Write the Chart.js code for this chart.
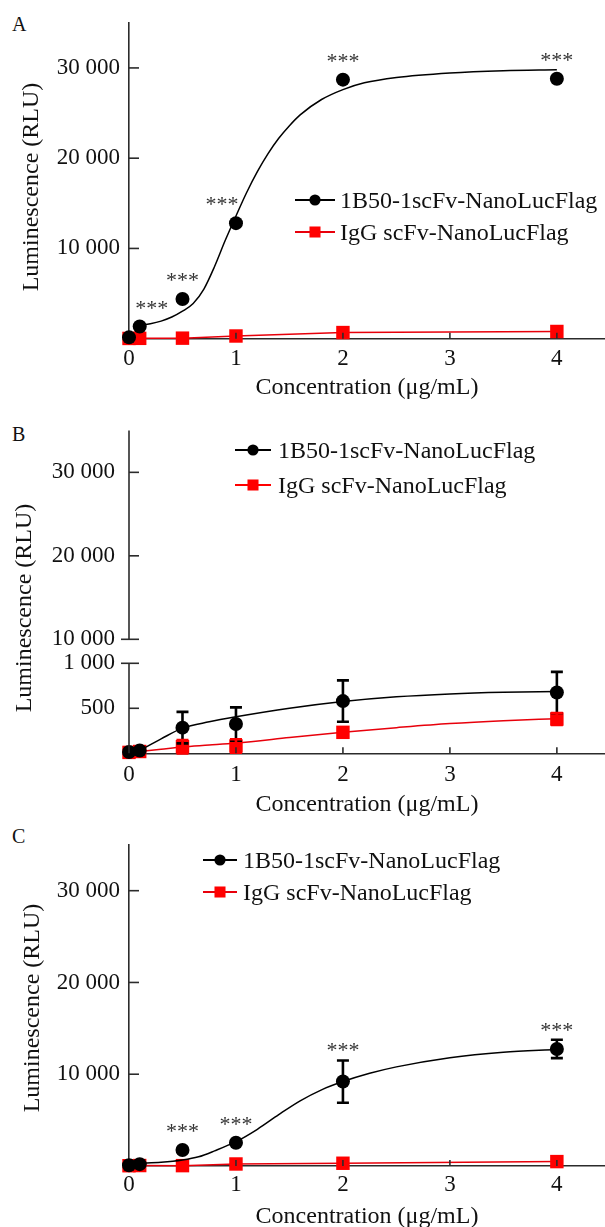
<!DOCTYPE html>
<html>
<head>
<meta charset="utf-8">
<script src="https://cdn.jsdelivr.net/npm/chart.js@4.4.1/dist/chart.umd.min.js"></script>
<style>
  html, body { margin: 0; padding: 0; background: #fff; }
  body { width: 605px; height: 1227px; position: relative; overflow: hidden; font-family: 'Liberation Serif', 'Times New Roman', serif; }
  .panel { position: absolute; left: 0; width: 605px; }
  .tag { position: absolute; left: 12px; font-size: 20px; line-height: 20px; color: #111; }
</style>
</head>
<body>
<div class="tag" style="top:14px">A</div>
<div class="tag" style="top:424px">B</div>
<div class="tag" style="top:826px">C</div>
<div class="panel" style="top:0;height:400px"><canvas id="chartA"></canvas></div>
<div class="panel" style="top:400px;height:420px"><canvas id="chartB"></canvas></div>
<div class="panel" style="top:820px;height:410px"><canvas id="chartC"></canvas></div>
<script>
// shared
const concentrations = [0, 0.1, 0.5, 1, 2, 4];
const xTicks = [0, 1, 2, 3, 4];
const seriesNames = ['1B50-1scFv-NanoLucFlag', 'IgG scFv-NanoLucFlag'];
const yTicksMain = [10000, 20000, 30000];

// panel A
const aBlack = [150, 1350, 4400, 12800, 28700, 28800];
const aRed = [30, 40, 60, 300, 680, 800];
const aStars = [0, 1, 1, 1, 1, 1];
const aFitX = [0.1, 0.2, 0.3, 0.4, 0.5, 0.6, 0.7, 0.8, 0.9, 1.0, 1.1, 1.2, 1.3, 1.4, 1.5, 1.6, 1.8, 2.0, 2.2, 2.5, 3.0, 3.5, 4.0];
const aFitBlack = [1450, 1650, 1950, 2400, 3050, 3900, 5500, 8000, 10900, 13600, 16200, 18500, 20500, 22200, 23600, 24800, 26500, 27600, 28350, 28950, 29450, 29700, 29800];

// panel B (broken axis)
const bBlack = [15, 30, 285, 325, 580, 675];
const bBlackErr = [0, 0, 175, 185, 230, 230];
const bRed = [10, 20, 73, 81, 233, 381];
const bRedErr = [0, 0, 75, 75, 30, 65];
const bFitX = [0.1, 0.3, 0.5, 0.75, 1, 1.5, 2, 2.5, 3, 3.5, 4];
const bFitBlack = [30, 160, 280, 350, 405, 500, 575, 628, 660, 678, 686];
const bFitRed = [20, 45, 70, 92, 115, 175, 235, 285, 330, 362, 385];
const bTicksHigh = [10000, 20000, 30000];
const bTicksLow = [500, 1000];

// panel C
const cBlack = [80, 200, 1740, 2540, 9200, 12750];
const cBlackErr = [0, 0, 0, 0, 2300, 1000];
const cRed = [30, 50, 40, 220, 300, 480];
const cStars = [0, 0, 1, 1, 1, 1];
const cFitX = [0.1, 0.3, 0.5, 0.65, 0.8, 1.0, 1.2, 1.4, 1.6, 1.8, 2.0, 2.25, 2.5, 3.0, 3.5, 4.0];
const cFitBlack = [290, 400, 650, 1000, 1650, 2650, 4000, 5600, 7100, 8300, 9200, 10100, 10800, 11800, 12400, 12700];

const serif = "'Liberation Serif', 'Times New Roman', serif";
const axisColor = '#2b2b2b';
Chart.defaults.font.family = serif;
Chart.defaults.color = '#111';

const zip = (xs, ys) => xs.map((x, i) => ({ x: x, y: ys[i] }));
const spaced = v => String(v).replace(/\B(?=(\d{3})+(?!\d))/g, ' ');

// error bars, stars, inward ticks, legend, y title, broken axis segments
const decor = {
    id: 'decor',
    afterDatasetsDraw(chart, args, opts) {
        const ctx = chart.ctx;
        const xs = chart.scales.x;
        ctx.save();
        chart.data.datasets.forEach((ds, i) => {
            if (!ds.errors) return;
            const ys = chart.scales[chart.getDatasetMeta(i).yAxisID];
            ctx.strokeStyle = ds.borderColor;
            ctx.lineWidth = 2.6;
            ds.data.forEach((p, j) => {
                const e = ds.errors[j];
                if (!e) return;
                const px = xs.getPixelForValue(p.x);
                const top = ys.getPixelForValue(p.y + e);
                const bot = ys.getPixelForValue(p.y - e);
                ctx.beginPath();
                ctx.moveTo(px, top); ctx.lineTo(px, bot);
                ctx.moveTo(px - 6, top); ctx.lineTo(px + 6, top);
                ctx.moveTo(px - 6, bot); ctx.lineTo(px + 6, bot);
                ctx.stroke();
            });
        });
        // significance stars
        ctx.fillStyle = '#333';
        ctx.font = '22px ' + serif;
        ctx.textAlign = 'center';
        ctx.textBaseline = 'alphabetic';
        chart.data.datasets.forEach((ds, i) => {
            if (!ds.stars) return;
            const ys = chart.scales[chart.getDatasetMeta(i).yAxisID];
            ds.data.forEach((p, j) => {
                if (!ds.stars[j]) return;
                const e = ds.errors ? ds.errors[j] : 0;
                const px = xs.getPixelForValue(p.x) + ((opts.starShift || {})[j] || 0);
                const cy = e ? ys.getPixelForValue(p.y + e) - 11 : ys.getPixelForValue(p.y) - 20;
                [-11, 0, 11].forEach(dx => ctx.fillText('*', px + dx, cy + 8));
            });
        });
        ctx.restore();
    },
    afterDraw(chart, args, opts) {
        const ctx = chart.ctx;
        const area = chart.chartArea;
        const xs = chart.scales.x;
        ctx.save();
        ctx.strokeStyle = axisColor;
        ctx.lineWidth = 1.6;
        // y axis drawn in pieces (panel B)
        (opts.segments || []).forEach(s => {
            const sc = chart.scales[s.axis];
            ctx.beginPath();
            ctx.moveTo(area.left, sc.getPixelForValue(s.from));
            ctx.lineTo(area.left, sc.getPixelForValue(s.to));
            ctx.stroke();
        });
        // inward y ticks
        (opts.yAxes || []).forEach(id => {
            const sc = chart.scales[id];
            sc.ticks.forEach(t => {
                const py = sc.getPixelForValue(t.value);
                const out = (opts.breakTicks || []).includes(t.value) ? 8 : 0;
                ctx.beginPath();
                ctx.moveTo(area.left - out, py);
                ctx.lineTo(area.left + 10, py);
                ctx.stroke();
            });
        });
        // inward x ticks
        xs.ticks.forEach(t => {
            if (t.value === 0) return;
            const px = xs.getPixelForValue(t.value);
            ctx.beginPath();
            ctx.moveTo(px, area.bottom);
            ctx.lineTo(px, area.bottom - 6);
            ctx.stroke();
        });
        // y axis title
        ctx.fillStyle = '#111';
        ctx.font = '24px ' + serif;
        ctx.textAlign = 'center';
        ctx.textBaseline = 'middle';
        ctx.save();
        ctx.translate(opts.yTitle.x, opts.yTitle.y);
        ctx.rotate(-Math.PI / 2);
        ctx.fillText('Luminescence (RLU)', 0, 0);
        ctx.restore();
        // legend
        const lg = opts.legend;
        let row = 0;
        chart.data.datasets.forEach(ds => {
            if (!ds.legendItem) return;
            const y = lg.y + row * lg.dy;
            ctx.strokeStyle = ds.borderColor;
            ctx.lineWidth = 1.8;
            ctx.beginPath();
            ctx.moveTo(lg.x, y);
            ctx.lineTo(lg.x + lg.len, y);
            ctx.stroke();
            ctx.fillStyle = ds.backgroundColor;
            Chart.helpers.drawPoint(ctx, {
                pointStyle: ds.pointStyle,
                radius: ds.pointStyle === 'rect' ? 7.8 : 5.6,
                rotation: 0,
                borderWidth: 0
            }, lg.x + lg.len / 2, y);
            ctx.fillStyle = '#111';
            ctx.font = '24px ' + serif;
            ctx.textAlign = 'left';
            ctx.textBaseline = 'alphabetic';
            ctx.fillText(ds.label, lg.x + lg.tx, y + 8);
            row++;
        });
        ctx.restore();
    }
};

function markerSet(label, xs, ys, color, style, extra) {
    return Object.assign({
        label: label,
        data: zip(xs, ys),
        pointStyle: style,
        pointRadius: style === 'rect' ? 9.5 : 7,
        pointHoverRadius: style === 'rect' ? 9.5 : 7,
        backgroundColor: color,
        borderColor: color,
        pointBorderWidth: 0,
        borderWidth: 1.5,
        showLine: false,
        clip: false,
        legendItem: true
    }, extra || {});
}

function fitSet(xs, ys, color, extra) {
    return Object.assign({
        data: zip(xs, ys),
        showLine: true,
        pointRadius: 0,
        borderColor: color,
        borderWidth: 1.5,
        cubicInterpolationMode: 'monotone',
        clip: false
    }, extra || {});
}

function xScale(h, axisY, tickPad, titlePad) {
    return {
        type: 'linear',
        min: 0,
        max: 4.45,
        afterBuildTicks: s => { s.ticks = xTicks.map(v => ({ value: v })); },
        afterFit: s => { s.height = h - axisY; },
        grid: { display: false, drawTicks: false, tickLength: 0 },
        border: { display: true, color: axisColor, width: 1.6 },
        ticks: { padding: tickPad, font: { size: 23, lineHeight: 1 }, color: '#111' },
        title: {
            display: true,
            text: 'Concentration (μg/mL)',
            font: { size: 24, lineHeight: 1 },
            color: '#111',
            padding: { top: 0, bottom: titlePad }
        }
    };
}

function yScale(tickVals, min, max, opts) {
    return Object.assign({
        type: 'linear',
        position: 'left',
        min: min,
        max: max,
        afterBuildTicks: s => { s.ticks = tickVals.map(v => ({ value: v })); },
        afterFit: s => { s.width = 129; },
        grid: { display: false, drawTicks: false, tickLength: 0 },
        border: { display: true, color: axisColor, width: 1.6 },
        ticks: { padding: 9, font: { size: 23 }, color: '#111', callback: v => spaced(v) }
    }, opts || {});
}

function baseOptions(top, scales, decorOpts) {
    return {
        responsive: true,
        maintainAspectRatio: false,
        animation: false,
        events: [],
        layout: { autoPadding: false, padding: { top: top, right: 0, bottom: 0, left: 0 } },
        plugins: { legend: { display: false }, tooltip: { enabled: false }, decor: decorOpts },
        scales: scales
    };
}

// Panel A
new Chart(document.getElementById('chartA'), {
    type: 'scatter',
    data: {
        datasets: [
            markerSet(seriesNames[0], concentrations, aBlack, '#000', 'circle', { stars: aStars }),
            fitSet(aFitX, aFitBlack, '#000'),
            markerSet(seriesNames[1], concentrations, aRed, '#ff0000', 'rect', { showLine: true, borderColor: '#e8000b' })
        ]
    },
    options: baseOptions(18.6, {
        x: xScale(400, 338.7, 9, 0),
        y: yScale(yTicksMain, 0, 35000)
    }, {
        yAxes: ['y'],
        starShift: { 1: 12, 3: -14 },
        yTitle: { x: 32, y: 187 },
        legend: { x: 295, y: 200, dy: 32, len: 40, tx: 45 }
    }),
    plugins: [decor]
});

// Panel B: broken y axis, two scales stacked in the same left column
const bTicksStyle = { padding: 14, font: { size: 23 }, color: '#111', callback: v => spaced(v) };
new Chart(document.getElementById('chartB'), {
    type: 'scatter',
    data: {
        datasets: [
            markerSet(seriesNames[0], concentrations, bBlack, '#000', 'circle', { errors: bBlackErr, yAxisID: 'yLow' }),
            fitSet(bFitX, bFitBlack, '#000', { yAxisID: 'yLow' }),
            markerSet(seriesNames[1], concentrations, bRed, '#ff0000', 'rect', { errors: bRedErr, yAxisID: 'yLow' }),
            fitSet(bFitX, bFitRed, '#e8000b', { yAxisID: 'yLow' })
        ]
    },
    options: baseOptions(30.6, {
        x: xScale(420, 353.3, 10, 3),
        yHigh: yScale(bTicksHigh, 7126, 35000, {
            stack: 'broken',
            stackWeight: 232.7,
            weight: 1,
            border: { display: false },
            ticks: bTicksStyle
        }),
        yLow: yScale(bTicksLow, 0, 1000, {
            stack: 'broken',
            stackWeight: 90,
            weight: 0,
            border: { display: false },
            ticks: bTicksStyle
        })
    }, {
        yAxes: ['yHigh', 'yLow'],
        breakTicks: [10000, 1000],
        segments: [{ axis: 'yHigh', from: 10000, to: 35000 }, { axis: 'yLow', from: 0, to: 1000 }],
        yTitle: { x: 25, y: 208 },
        legend: { x: 235, y: 50, dy: 35, len: 36, tx: 43 }
    }),
    plugins: [decor]
});

// Panel C
new Chart(document.getElementById('chartC'), {
    type: 'scatter',
    data: {
        datasets: [
            markerSet(seriesNames[0], concentrations, cBlack, '#000', 'circle', { errors: cBlackErr, stars: cStars }),
            fitSet(cFitX, cFitBlack, '#000'),
            markerSet(seriesNames[1], concentrations, cRed, '#ff0000', 'rect', { showLine: true, borderColor: '#e8000b' })
        ]
    },
    options: baseOptions(24.8, {
        x: xScale(410, 346, 7, 1.3),
        y: yScale(yTicksMain, 0, 35000)
    }, {
        yAxes: ['y'],
        yTitle: { x: 33, y: 188 },
        legend: { x: 203, y: 40, dy: 32, len: 34, tx: 40 }
    }),
    plugins: [decor]
});
</script>
</body>
</html>
